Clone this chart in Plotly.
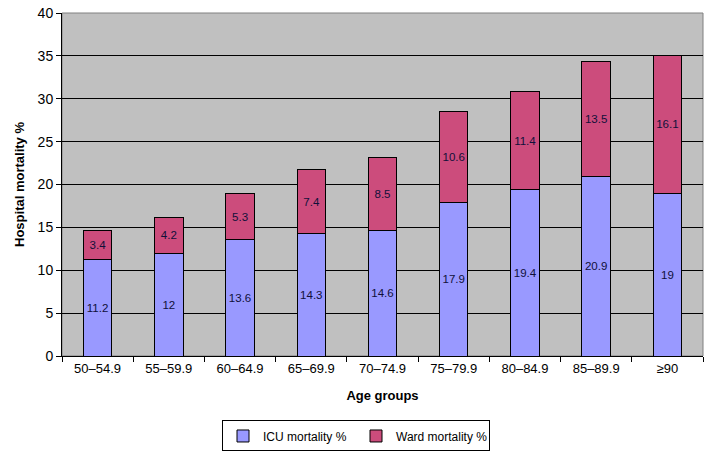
import plotly.graph_objects as go

age_groups = ["50–54.9", "55–59.9", "60–64.9", "65–69.9", "70–74.9",
              "75–79.9", "80–84.9", "85–89.9", "≥90"]
icu_mortality = [11.2, 12, 13.6, 14.3, 14.6, 17.9, 19.4, 20.9, 19]
ward_mortality = [3.4, 4.2, 5.3, 7.4, 8.5, 10.6, 11.4, 13.5, 16.1]
y_ticks = [0, 5, 10, 15, 20, 25, 30, 35, 40]

font = "Liberation Sans, Arial, sans-serif"
label_font = dict(family=font, size=13, color="#10103a")

fig = go.Figure()
fig.add_trace(go.Bar(
    x=age_groups, y=icu_mortality, name="ICU mortality %",
    marker=dict(color="#9999FF", line=dict(color="black", width=1)),
    text=[str(v) for v in icu_mortality], textposition="inside",
    insidetextanchor="middle", textfont=label_font, textangle=0,
))
fig.add_trace(go.Bar(
    x=age_groups, y=ward_mortality, name="Ward mortality %",
    marker=dict(color="#CC4C7C", line=dict(color="black", width=1)),
    text=[str(v) for v in ward_mortality], textposition="inside",
    insidetextanchor="middle", textfont=label_font, textangle=0,
))

fig.update_layout(
    barmode="stack", bargap=0.6,
    width=712, height=457,
    margin=dict(l=62, r=9, t=13, b=101, autoexpand=False),
    paper_bgcolor="white", plot_bgcolor="#C0C0C0",
    font=dict(family=font, size=13, color="black"),
    uniformtext=dict(minsize=8, mode="show"),
    legend=dict(orientation="h", x=0.5, xref="container", xanchor="center",
                y=0.046, yref="container", yanchor="middle",
                bordercolor="black", borderwidth=1, bgcolor="white",
                font=dict(family=font, size=12), itemwidth=30,
                entrywidth=88, entrywidthmode="pixels",
                tracegroupgap=0, traceorder="normal"),
    showlegend=True,
)
fig.update_xaxes(
    title=dict(text="<b>Age groups</b>", font=dict(family=font, size=13), standoff=16),
    showline=True, linecolor="black", linewidth=1, automargin=False,
    ticks="outside", tickson="boundaries", ticklen=5, tickcolor="black",
    tickfont=dict(family=font, size=13), showgrid=False,
)
fig.update_yaxes(
    title=dict(text="<b>Hospital mortality %</b>", font=dict(family=font, size=13), standoff=10),
    range=[0, 40], tickvals=y_ticks, automargin=False,
    showline=True, linecolor="black", linewidth=1,
    ticks="outside", ticklen=5, tickcolor="black",
    tickfont=dict(family=font, size=14),
    showgrid=True, gridcolor="black", gridwidth=1, zeroline=False,
)
fig.add_shape(type="rect", xref="paper", yref="paper", x0=0, x1=1, y0=0, y1=1,
              line=dict(color="#808080", width=1), layer="below")
fig.write_html("out.html", config={"displayModeBar": False},
               post_script="document.body.style.margin='0';")
